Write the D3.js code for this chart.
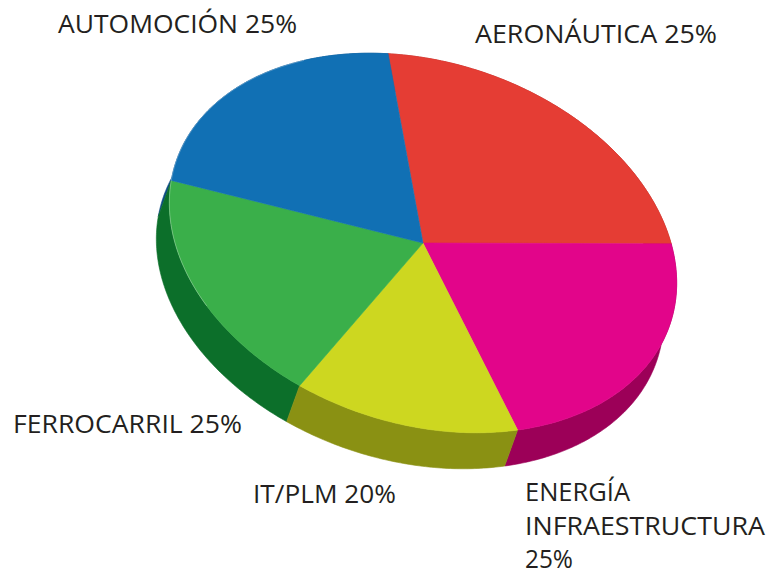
<!DOCTYPE html>
<meta charset="utf-8">
<script src="https://d3js.org/d3.v7.min.js"></script>
<style>
  body { margin: 0; background: #fff; }
</style>
<div id="chart"></div>
<script>

// slices, clockwise from the top (blue/red edge)
const categories = ["AERONÁUTICA", "ENERGÍA INFRAESTRUCTURA", "IT/PLM", "FERROCARRIL", "AUTOMOCIÓN"];
const shownPercent = ["25%", "25%", "20%", "25%", "25%"];
// size of each slice on the disc, in degrees
const sliceDegrees = [86, 80, 51, 68, 75];
const topColors = ["#e53d34", "#e2058a", "#cdd720", "#3aaf4a", "#1170b4"];
const sideColors = ["#a8231d", "#9c0058", "#8a9113", "#0c6f2a", "#0d4b85"];

const width = 773, height = 577;

// tilted disc: centre, semi axes, rotation, thickness
const cx = 423, cy = 243;
const RX = 260, RY = 181;
const tilt = 17.8 * Math.PI / 180;
const depth = [-13, 36];

const svg = d3.select("#chart")
  .append("svg")
    .attr("width", width)
    .attr("height", height);

// point on the rim for a d3.pie angle (0 = up, clockwise)
function rim(a, off) {
  const t = a - Math.PI / 2;
  const lx = RX * Math.cos(t), ly = RY * Math.sin(t);
  let x = cx + lx * Math.cos(tilt) - ly * Math.sin(tilt);
  let y = cy + lx * Math.sin(tilt) + ly * Math.cos(tilt);
  if (off) { x += depth[0]; y += depth[1]; }
  return [x, y];
}

function arcPoints(a0, a1, off) {
  const n = Math.max(8, Math.ceil((a1 - a0) * 80));
  return d3.range(n + 1).map(i => rim(a0 + (a1 - a0) * i / n, off));
}

const start = -20.5 * Math.PI / 180;
const pie = d3.pie()
  .sort(null)
  .value(d => d)
  .startAngle(start)
  .endAngle(start + 2 * Math.PI);

const slices = pie(sliceDegrees);
const line = d3.line();

// side walls, back ones first
const sides = slices.map((s, i) => {
  const top = arcPoints(s.startAngle, s.endAngle, false);
  const bottom = arcPoints(s.startAngle, s.endAngle, true).reverse();
  const pts = top.concat(bottom);
  return { i, pts, my: d3.mean(top, p => p[1]) };
}).sort((a, b) => a.my - b.my);

svg.append("g")
  .selectAll("path")
  .data(sides)
  .join("path")
    .attr("d", d => line(d.pts) + "Z")
    .attr("fill", d => sideColors[d.i])
    .attr("stroke", d => sideColors[d.i])
    .attr("stroke-width", 0.6);

// top faces
svg.append("g")
  .selectAll("path")
  .data(slices)
  .join("path")
    .attr("d", s => line([[cx, cy]].concat(arcPoints(s.startAngle, s.endAngle, false))) + "Z")
    .attr("fill", (s, i) => topColors[i])
    .attr("stroke", (s, i) => topColors[i])
    .attr("stroke-width", 0.6);

// faint highlight along the front rim
svg.append("path")
  .attr("d", line(arcPoints(start + 4.3, start + 2 * Math.PI - 0.35, false)))
  .attr("fill", "none")
  .attr("stroke", "#ffffff")
  .attr("stroke-opacity", 0.35)
  .attr("stroke-width", 0.8);

// labels: [text lines, x, first baseline, width of longest line]
const labelPos = [
  { lines: [categories[0] + " " + shownPercent[0]], x: 475, y: 43, w: 242 },
  { lines: ["ENERGÍA", "INFRAESTRUCTURA", shownPercent[1]], x: 525, y: 501, w: 240 },
  { lines: [categories[2] + " " + shownPercent[2]], x: 253, y: 503, w: 143 },
  { lines: [categories[3] + " " + shownPercent[3]], x: 13, y: 433, w: 229 },
  { lines: [categories[4] + " " + shownPercent[4]], x: 58, y: 33, w: 239 }
];
const lineWidths = { "ENERGÍA": 105, "INFRAESTRUCTURA": 240, "25%": 48 };

labelPos.forEach(l => {
  l.lines.forEach((txt, k) => {
    svg.append("text")
      .attr("x", l.x)
      .attr("y", l.y + k * 33.5)
      .attr("textLength", l.lines.length > 1 ? lineWidths[txt] : l.w)
      .attr("lengthAdjust", "spacingAndGlyphs")
      .style("font-family", "'Open Sans', sans-serif")
      .style("font-size", "26px")
      .style("fill", "#231f20")
      .text(txt);
  });
});

</script>
